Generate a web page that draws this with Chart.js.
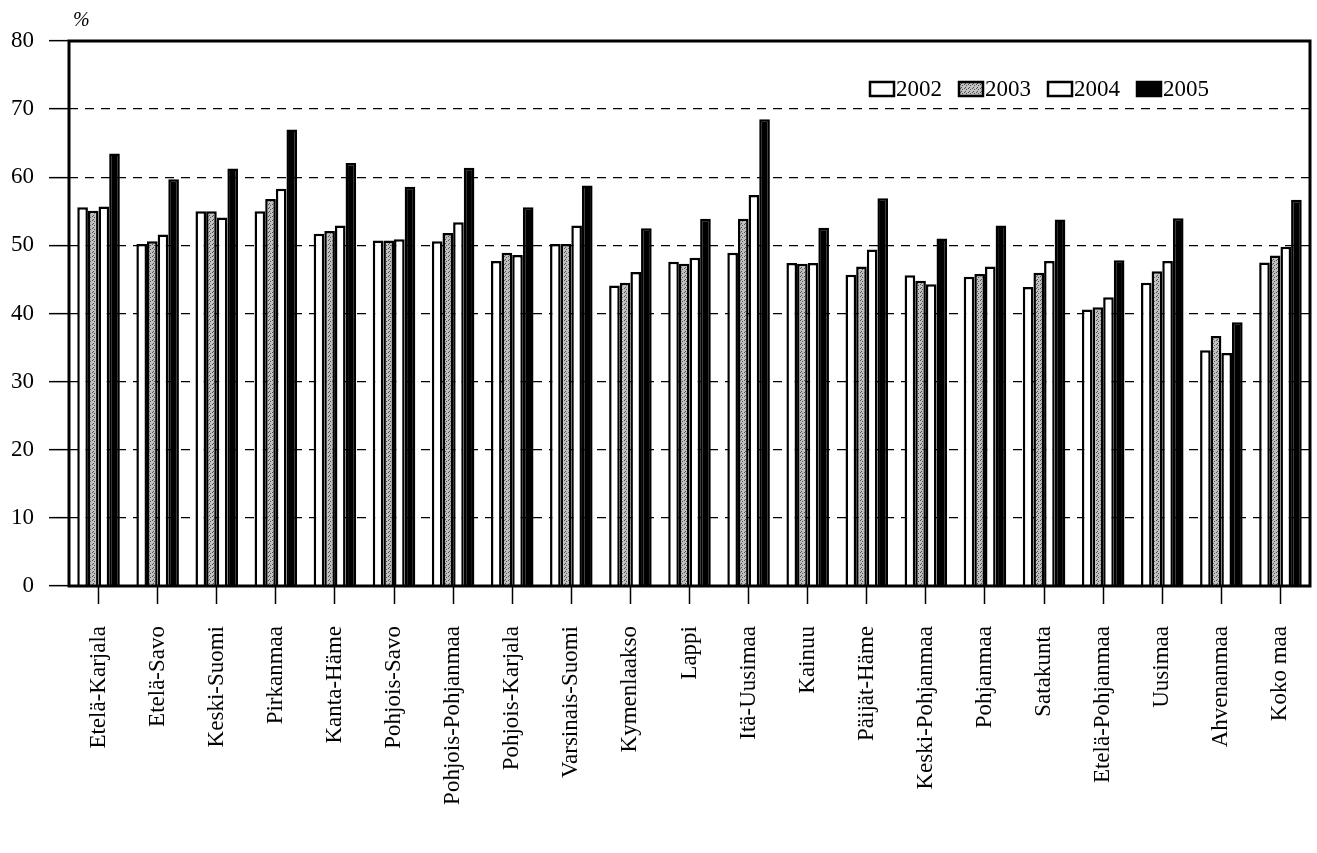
<!DOCTYPE html>
<html>
<head>
<meta charset="utf-8">
<script src="https://cdn.jsdelivr.net/npm/chart.js@4.4.1/dist/chart.umd.min.js"></script>
<style>
  html, body { margin: 0; padding: 0; background: #fff; }
</style>
</head>
<body>
<canvas id="chart" width="1317" height="853"></canvas>
<script>
const regions = [
  "Etelä-Karjala", "Etelä-Savo", "Keski-Suomi", "Pirkanmaa", "Kanta-Häme",
  "Pohjois-Savo", "Pohjois-Pohjanmaa", "Pohjois-Karjala", "Varsinais-Suomi",
  "Kymenlaakso", "Lappi", "Itä-Uusimaa", "Kainuu", "Päijät-Häme",
  "Keski-Pohjanmaa", "Pohjanmaa", "Satakunta", "Etelä-Pohjanmaa", "Uusimaa",
  "Ahvenanmaa", "Koko maa"
];
const years = ["2002", "2003", "2004", "2005"];

const v2002 = [55.6, 50.2, 55.0, 55.0, 51.7, 50.7, 50.6, 47.7, 50.2, 44.1, 47.6, 48.9, 47.4, 45.7, 45.6, 45.4, 43.9, 40.6, 44.5, 34.6, 47.5];
const v2003 = [55.1, 50.6, 55.0, 56.8, 52.1, 50.7, 51.8, 48.9, 50.2, 44.5, 47.3, 53.9, 47.3, 46.9, 44.8, 45.8, 46.0, 40.9, 46.2, 36.7, 48.5];
const v2004 = [55.7, 51.6, 54.1, 58.3, 52.9, 50.9, 53.4, 48.6, 52.9, 46.1, 48.2, 57.4, 47.4, 49.4, 44.3, 46.9, 47.7, 42.4, 47.7, 34.2, 49.8];
const v2005 = [63.5, 59.7, 61.3, 67.0, 62.1, 58.6, 61.4, 55.6, 58.8, 52.5, 53.9, 68.5, 52.6, 56.9, 51.0, 52.9, 53.8, 47.8, 54.0, 38.7, 56.7];

const yTicks = [0, 10, 20, 30, 40, 50, 60, 70, 80];

const FONT = "'Liberation Serif', 'Times New Roman', serif";

// grey stipple used for the 2003 bars
function stipple() {
  const c = document.createElement("canvas");
  c.width = 4;
  c.height = 4;
  const g = c.getContext("2d");
  g.fillStyle = "#c0c0c0";
  g.fillRect(0, 0, 4, 4);
  g.fillStyle = "#505050";
  g.fillRect(0, 0, 1, 1);
  g.fillRect(2, 1, 1, 1);
  g.fillRect(1, 3, 1, 1);
  return g.createPattern(c, "repeat");
}
const greyFill = stipple();

const fills = ["#ffffff", greyFill, "#ffffff", "#000000"];
const values = [v2002, v2003, v2004, v2005];

const datasets = years.map((y, i) => ({
  label: y,
  data: values[i],
  backgroundColor: fills[i],
  borderColor: "#000",
  borderWidth: 2.5,
  borderSkipped: "bottom",
  barPercentage: 1.0,
  categoryPercentage: 0.72,
}));

const framePlugin = {
  id: "frame",
  afterDraw(chart) {
    const { ctx, chartArea: a } = chart;
    ctx.save();
    ctx.strokeStyle = "#000";
    ctx.lineWidth = 3;
    ctx.strokeRect(a.left, a.top, a.right - a.left, a.bottom - a.top);

    ctx.fillStyle = "#000";
    ctx.textBaseline = "middle";
    ctx.textAlign = "left";
    ctx.font = "italic 20px " + FONT;
    ctx.fillText("%", a.left + 4, a.top - 20);

    // legend inside the plot, top right
    ctx.font = "23px " + FONT;
    let x = a.right - 440;
    const yc = a.top + 48;
    chart.data.datasets.forEach((ds) => {
      ctx.fillStyle = ds.backgroundColor;
      ctx.fillRect(x, yc - 7, 24, 14);
      ctx.lineWidth = 2.5;
      ctx.strokeStyle = "#000";
      ctx.strokeRect(x, yc - 7, 24, 14);
      ctx.fillStyle = "#000";
      ctx.fillText(ds.label, x + 26, yc + 1);
      x += 26 + ctx.measureText(ds.label).width + 17;
    });
    ctx.restore();
  }
};

new Chart(document.getElementById("chart").getContext("2d"), {
  type: "bar",
  data: { labels: regions, datasets },
  options: {
    responsive: false,
    animation: false,
    layout: { padding: { left: 0, top: 41, right: 7, bottom: 0 } },
    plugins: {
      legend: { display: false },
      tooltip: { enabled: false }
    },
    scales: {
      x: {
        grid: {
          offset: false,
          drawOnChartArea: false,
          tickLength: 18,
          tickColor: "#000",
          tickWidth: 1.5
        },
        border: { display: false },
        ticks: {
          autoSkip: false,
          maxRotation: 90,
          minRotation: 90,
          padding: 22,
          color: "#000",
          font: { family: FONT, size: 23 }
        },
        afterFit: (s) => {
          s.height = 267;
          s.paddingLeft = 0;
          s.paddingRight = 0;
        }
      },
      y: {
        min: 0,
        max: 80,
        afterBuildTicks: (s) => { s.ticks = yTicks.map((v) => ({ value: v })); },
        grid: {
          color: (c) => (c.tick && (c.tick.value === 0 || c.tick.value === 80)) ? "rgba(0,0,0,0)" : "#000",
          lineWidth: 1.3,
          tickLength: 20,
          tickColor: "#000",
          tickWidth: 1.5,
          tickBorderDash: []
        },
        border: { display: false, dash: [9, 7] },
        ticks: {
          padding: 15,
          color: "#000",
          font: { family: FONT, size: 23 }
        },
        afterFit: (s) => { s.width = 69; }
      }
    }
  },
  plugins: [framePlugin]
});
</script>
</body>
</html>
